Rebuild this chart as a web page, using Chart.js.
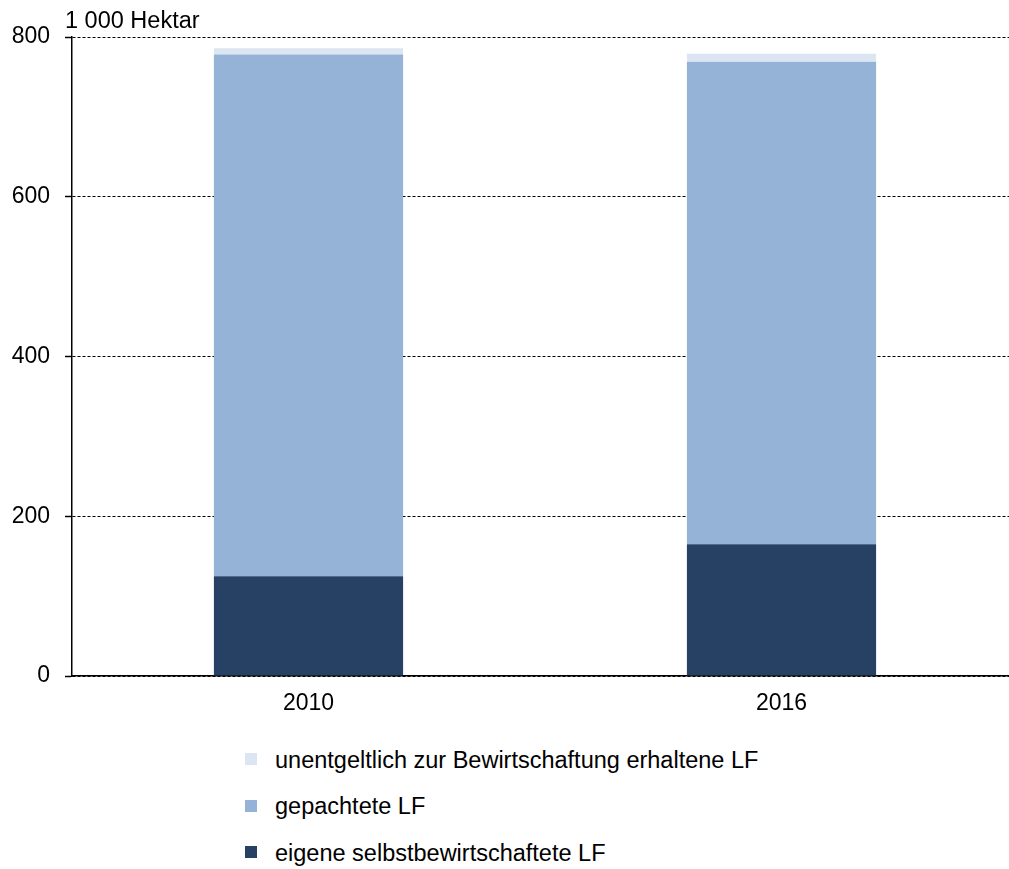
<!DOCTYPE html>
<html>
<head>
<meta charset="utf-8">
<script src="https://cdn.jsdelivr.net/npm/chart.js@4.4.1/dist/chart.umd.min.js"></script>
<style>
  html, body { margin: 0; padding: 0; background: #fff; overflow: hidden; }
  #wrap { position: relative; width: 1018px; height: 720px; }
  #legend { position: absolute; left: 245px; top: 737px; font-family: "Liberation Sans", Arial, sans-serif; font-size: 23.5px; line-height: 23px; color: #000; }
  #legend div { height: 46.5px; display: flex; align-items: center; }
  #legend span.box { display: inline-block; width: 12px; height: 12px; margin: -2px 18px 0 0; }
</style>
</head>
<body>
<div id="wrap"><canvas id="chart1" width="1018" height="720"></canvas></div>
<div id="legend"></div>
<script>
// data (1 000 Hektar)
const years = ['2010', '2016'];
const eigene = [125, 165];
const gepachtet = [653, 604];
const unentgeltlich = [8, 10];
const yTicks = [0, 200, 400, 600, 800];
const unitLabel = '1 000 Hektar';

const seriesNames = [
    'eigene selbstbewirtschaftete LF',
    'gepachtete LF',
    'unentgeltlich zur Bewirtschaftung erhaltene LF'
];
const seriesColors = ['#264163', '#95b3d7', '#dce6f2'];

document.addEventListener('DOMContentLoaded', () => {
    const ctx1 = document.getElementById('chart1').getContext('2d');
    Chart.defaults.font.family = '"Liberation Sans", Arial, sans-serif';
    Chart.defaults.color = '#000';

    const unitPlugin = {
        id: 'unitLabel',
        afterDraw(chart) {
            const c = chart.ctx;
            c.save();
            c.font = '23.5px "Liberation Sans", Arial, sans-serif';
            c.fillStyle = '#000';
            c.textAlign = 'left';
            c.textBaseline = 'alphabetic';
            c.fillText(unitLabel, chart.chartArea.left - 7, chart.chartArea.top - 9);
            c.restore();
        }
    };

    const values = [eigene, gepachtet, unentgeltlich];

    new Chart(ctx1, {
        type: 'bar',
        data: {
            labels: years,
            datasets: values.map((d, i) => ({
                label: seriesNames[i],
                data: d,
                backgroundColor: seriesColors[i],
                borderWidth: 0,
                categoryPercentage: 1,
                barPercentage: 0.4
            }))
        },
        options: {
            responsive: false,
            animation: false,
            layout: {
                padding: { top: 37, bottom: 0, left: 0, right: 0 }
            },
            scales: {
                x: {
                    stacked: true,
                    afterFit: (scale) => { scale.height = 44; },
                    grid: { display: false, drawTicks: false, tickLength: 0 },
                    border: { display: true, color: '#000', width: 1.5 },
                    ticks: { font: { size: 23 }, color: '#000', padding: 14 }
                },
                y: {
                    stacked: true,
                    min: 0,
                    max: 800,
                    afterBuildTicks: (scale) => { scale.ticks = yTicks.map(v => ({ value: v })); },
                    afterFit: (scale) => { scale.width = 72; },
                    grid: {
                        color: '#000',
                        lineWidth: 1,
                        tickLength: 7,
                        tickColor: '#000',
                        tickWidth: 1.5
                    },
                    border: { display: true, color: '#000', width: 1.5, dash: [3, 2] },
                    ticks: { font: { size: 23 }, color: '#000', padding: 15 }
                }
            },
            plugins: {
                legend: { display: false },
                tooltip: { enabled: false }
            }
        },
        plugins: [unitPlugin]
    });

    // legend, top to bottom in reverse stacking order
    const legend = document.getElementById('legend');
    for (let i = seriesNames.length - 1; i >= 0; i--) {
        const row = document.createElement('div');
        row.innerHTML = '<span class="box" style="background:' + seriesColors[i] + '"></span>' + seriesNames[i];
        legend.appendChild(row);
    }
});
</script>
</body>
</html>
